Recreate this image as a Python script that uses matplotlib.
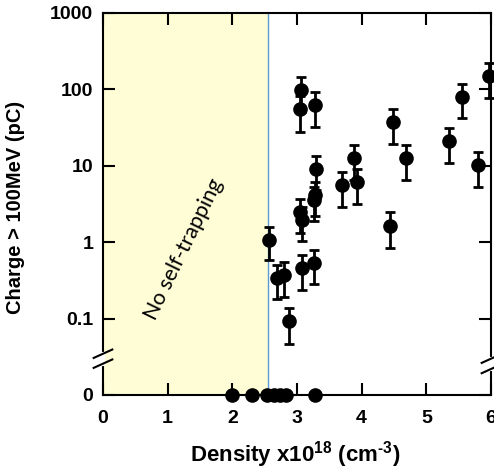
import matplotlib
matplotlib.use('Agg')
import matplotlib.pyplot as plt
import numpy as np

# measured shots: density (1e18 cm^-3), charge > 100 MeV (pC), error (pC)
density = [2.57, 2.69, 2.80, 2.87, 3.07, 3.26, 3.04, 3.07, 3.06, 3.04, 3.28,
           3.29, 3.28, 3.27, 3.69, 3.88, 3.93, 4.44, 4.49, 4.68, 5.35, 5.55,
           5.80, 5.97]
charge = [1.08, 0.34, 0.37, 0.092, 0.46, 0.54, 2.5, 1.95, 98, 55, 62,
          9.2, 4.2, 3.6, 5.6, 12.5, 6.2, 1.65, 37, 12.5, 21, 80,
          10.2, 150]
charge_err = [0.5, 0.16, 0.18, 0.045, 0.22, 0.26, 1.2, 0.9, 48, 27, 30,
              4.4, 2.0, 1.7, 2.7, 6, 3, 0.8, 18, 6, 10, 38,
              5, 72]

# shots with no charge detected
zero_density = [2.0, 2.31, 2.53, 2.64, 2.74, 2.83, 3.28]
zero_level = 0.01  # where "0" sits on the broken log axis

threshold = 2.55

ytick_vals = [0.01, 0.1, 1, 10, 100, 1000]
ytick_labels = ['0', '0.1', '1', '10', '100', '1000']
xtick_vals = [0, 1, 2, 3, 4, 5, 6]

plt.rcParams['font.family'] = ['Liberation Sans', 'DejaVu Sans']
plt.rcParams['font.weight'] = 'bold'
plt.rcParams['mathtext.fontset'] = 'custom'
plt.rcParams['mathtext.rm'] = 'Liberation Sans:bold'
plt.rcParams['mathtext.bf'] = 'Liberation Sans:bold'

fig = plt.figure(figsize=(4.94, 4.69), dpi=100)
ax = fig.add_axes([0.2085, 0.1578, 0.7854, 0.8145])

ax.set_yscale('log')
ax.set_xlim(0, 6)
ax.set_ylim(0.01, 1000)

# no self-trapping region
ax.axvspan(0, threshold, color='#FFFDD6', zorder=0)
ax.axvline(threshold, color='#5B9BD5', lw=1.0, zorder=1)

ax.errorbar(density, charge, yerr=charge_err, fmt='o', color='black',
            markersize=9.5, elinewidth=2, capsize=3.5, capthick=2,
            clip_on=False, zorder=3)
ax.plot(zero_density, [zero_level] * len(zero_density), 'o', color='black',
        markersize=9.5, clip_on=False, zorder=3)

ax.text(1.25, 0.8, 'No self-trapping', rotation=64, ha='center', va='center',
        rotation_mode='anchor', fontsize=15.5, fontweight='normal',
        family=['Lato', 'DejaVu Sans'])

ax.set_yticks(ytick_vals)
ax.set_yticklabels(ytick_labels)
ax.yaxis.set_minor_locator(matplotlib.ticker.NullLocator())
ax.set_xticks(xtick_vals)

ax.tick_params(which='major', direction='in', length=8.5, width=1.5,
               top=True, right=True, labelsize=14, pad=7)
ax.tick_params(axis='x', pad=11)
for sp in ax.spines.values():
    sp.set_linewidth(1.5)

ax.set_xlabel('Density x10$^{\\text{18}}$ (cm$^{\\text{-3}}$)', fontsize=16,
              fontweight='bold')
ax.set_ylabel('Charge > 100MeV (pC)', fontsize=14.5, fontweight='bold')
ax.yaxis.set_label_coords(-0.2, 0.49)
ax.xaxis.set_label_coords(0.495, -0.115)

# axis break marks
def draw_break(x0, ys, dx=0.024):
    ax.plot([x0, x0], [ys[1], ys[0]], color='white', lw=3,
            transform=ax.transAxes, clip_on=False, zorder=4)
    for yc in ys:
        ax.plot([x0 - dx, x0 + dx], [yc - 0.011, yc + 0.011], color='black',
                lw=1.5, transform=ax.transAxes, clip_on=False, zorder=5)

draw_break(0.0, [0.108, 0.082])
draw_break(1.0, [0.095, 0.068])

fig.savefig('out.png', dpi=100)
